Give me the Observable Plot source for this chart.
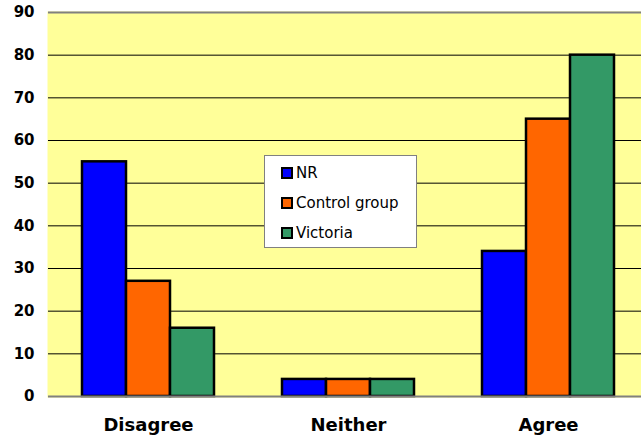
<!DOCTYPE html>
<html>
<head>
<meta charset="utf-8">
<script src="https://cdn.jsdelivr.net/npm/d3@7"></script>
<script src="https://cdn.jsdelivr.net/npm/@observablehq/plot@0.6"></script>
<style>
  body { margin: 0; background: #fff; overflow: hidden; }
  #chart { position: relative; width: 641px; height: 438px; overflow: hidden; }
  #chart svg { display: block; max-width: none !important; }
  .legend {
    position: absolute; left: 264px; top: 155px; width: 153px; height: 93px;
    background: #fff; border: 1px solid #808080; box-sizing: border-box;
    font: 15px "DejaVu Sans", Verdana, sans-serif; color: #000;
  }
  .legend .row { position: absolute; left: 16px; display: flex; align-items: center; height: 20px; }
  .legend .swatch { width: 12px; height: 12px; border: 2px solid #000; box-sizing: border-box; margin-right: 3px; }
</style>
</head>
<body>
<div id="chart"></div>
<script>
// Response categories and series
const categories = ["Disagree", "Neither", "Agree"];
const series = ["NR", "Control group", "Victoria"];

// Percentages per category, one array per series
const nrValues = [55, 4, 34];
const controlValues = [27, 4, 65];
const victoriaValues = [16, 4, 80];

const seriesColors = ["#0000ff", "#ff6600", "#339966"];
const yTicks = [0, 10, 20, 30, 40, 50, 60, 70, 80, 90];

const valuesBySeries = [nrValues, controlValues, victoriaValues];
const rows = categories.flatMap((category, i) =>
  series.map((s, j) => ({ category, series: s, value: valuesBySeries[j][i] }))
);

// The plotting area runs slightly past the right edge of the page
const chart = Plot.plot({
  width: 648,
  height: 438,
  marginLeft: 48,
  marginRight: 0,
  marginTop: 12,
  marginBottom: 42,
  style: { fontFamily: "'DejaVu Sans', Verdana, sans-serif", background: "transparent", color: "#000", maxWidth: "none" },
  fx: { domain: categories, padding: 0, label: null },
  x: { domain: series, paddingInner: 0, paddingOuter: 0.737, axis: null },
  y: { domain: [0, 90] },
  color: { domain: series, range: seriesColors },
  marks: [
    Plot.frame({ fill: "#ffff99", stroke: "#ffff99", strokeWidth: 2 }),
    Plot.ruleY(yTicks.filter(d => d > 0 && d < 90), { stroke: "#000", strokeWidth: 1 }),
    Plot.barY(rows, { fx: "category", x: "series", y: "value", fill: "series", stroke: "#000", strokeWidth: 2.5 }),
    Plot.ruleY([0, 90], { stroke: "#808080", strokeWidth: 2 }),
    Plot.axisY({ ticks: yTicks, tickSize: 0, tickPadding: 14, fontSize: 15, fontWeight: "bold", label: null, line: true, stroke: "#808080", strokeWidth: 2, fill: "#000" }),
    Plot.axisFx({ anchor: "bottom", tickSize: 0, tickPadding: 22, fontSize: 18, fontWeight: "bold", label: null, fill: "#000" })
  ]
});

const container = document.getElementById("chart");
container.appendChild(chart);

// Legend box
const legend = document.createElement("div");
legend.className = "legend";
series.forEach((s, i) => {
  const row = document.createElement("div");
  row.className = "row";
  row.style.top = (7 + i * 30) + "px";
  const sw = document.createElement("span");
  sw.className = "swatch";
  sw.style.background = seriesColors[i];
  const label = document.createElement("span");
  label.textContent = s;
  row.appendChild(sw);
  row.appendChild(label);
  legend.appendChild(row);
});
container.appendChild(legend);
</script>
</body>
</html>
